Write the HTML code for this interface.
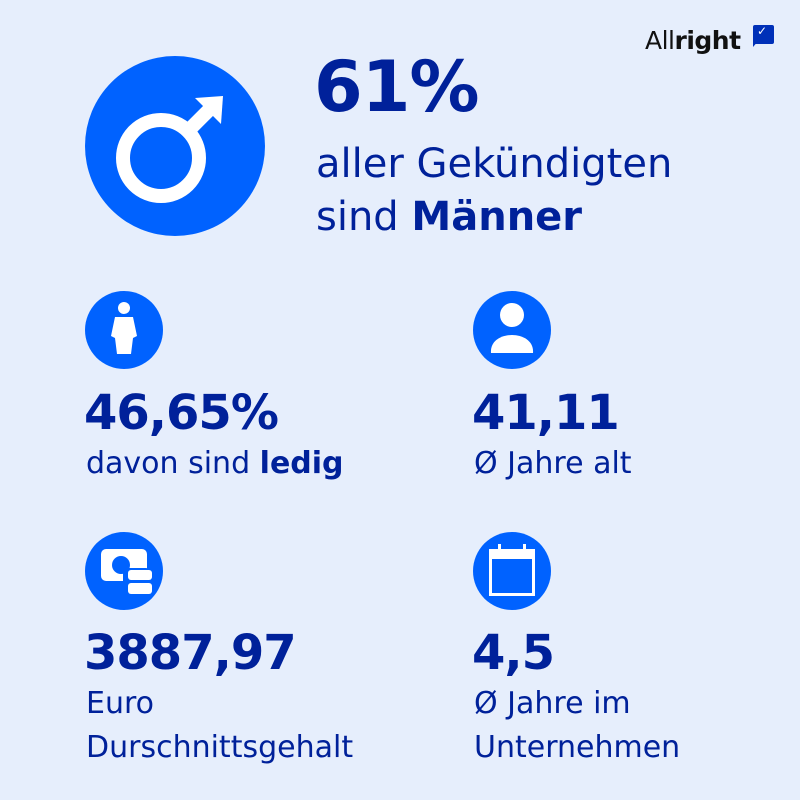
<!DOCTYPE html>
<html><head><meta charset="utf-8"><style>
body{margin:0;width:800px;height:800px;background:#e6eefc;position:relative;overflow:hidden;font-family:"DejaVu Sans","Liberation Sans",sans-serif;color:#00219a}
.t{position:absolute;white-space:nowrap;line-height:1}
.big{font-weight:bold;font-size:48px;letter-spacing:-1px}
.sm{font-size:30px}
.c{position:absolute;border-radius:50%;background:#0062ff}
</style></head><body>
<div class="t" style="left:645px;top:28px;font-size:25px;color:#111;letter-spacing:-0.5px">All<b>right</b></div>
<div style="position:absolute;left:753px;top:25px;width:21px;height:19px;background:#0030b8;border-radius:2px"></div>
<div style="position:absolute;left:753px;top:40px;width:0;height:0;border-left:6px solid #0030b8;border-bottom:7px solid transparent"></div>
<div class="t" style="left:757px;top:25px;color:#fff;font-size:12px">✓</div>

<div class="c" style="left:85px;top:56px;width:180px;height:180px"></div>
<svg style="position:absolute;left:85px;top:56px" width="180" height="180">
<circle cx="76" cy="102" r="38" fill="none" stroke="#fff" stroke-width="14"/>
<line x1="102" y1="76" x2="128" y2="50" stroke="#fff" stroke-width="14"/>
<polygon points="110,42 138,40 136,68" fill="#fff"/>
</svg>
<div class="t" style="left:314px;top:52px;font-size:70px;font-weight:bold;letter-spacing:-1px">61%</div>
<div class="t" style="left:316px;top:144px;font-size:40px">aller Gekündigten</div>
<div class="t" style="left:316px;top:197px;font-size:40px">sind <b>Männer</b></div>

<div class="c" style="left:85px;top:291px;width:78px;height:78px"></div>
<svg style="position:absolute;left:85px;top:291px" width="78" height="78">
<circle cx="39" cy="17" r="6" fill="#fff"/>
<path d="M30 26 H48 L52 45 L48 47 L46 63 H32 L30 47 L26 45 Z" fill="#fff"/>
</svg>
<div class="c" style="left:473px;top:291px;width:78px;height:78px"></div>
<svg style="position:absolute;left:473px;top:291px" width="78" height="78">
<circle cx="39" cy="24" r="12" fill="#fff"/>
<path d="M18 62 C16 38 62 38 60 62 Z" fill="#fff"/>
</svg>
<div class="t big" style="left:84px;top:389px">46,65%</div>
<div class="t sm" style="left:86px;top:449px">davon sind <b>ledig</b></div>
<div class="t big" style="left:472px;top:389px">41,11</div>
<div class="t sm" style="left:474px;top:449px">Ø Jahre alt</div>

<div class="c" style="left:85px;top:532px;width:78px;height:78px"></div>
<svg style="position:absolute;left:85px;top:532px" width="78" height="78">
<rect x="16" y="17" width="46" height="32" rx="5" fill="#fff"/>
<circle cx="36" cy="33" r="9" fill="#0062ff"/>
<rect x="38" y="36" width="28" height="30" rx="5" fill="#0062ff"/>
<rect x="43" y="38" width="24" height="10" rx="3" fill="#fff"/>
<rect x="43" y="51" width="24" height="11" rx="3" fill="#fff"/>
</svg>
<div class="c" style="left:473px;top:532px;width:78px;height:78px"></div>
<svg style="position:absolute;left:473px;top:532px" width="78" height="78">
<rect x="16" y="17" width="46" height="47" fill="#fff"/>
<rect x="19" y="27" width="40" height="34" fill="#0062ff"/>
<rect x="25" y="12" width="3" height="10" fill="#fff"/>
<rect x="50" y="12" width="3" height="10" fill="#fff"/>
</svg>
<div class="t big" style="left:84px;top:629px">3887,97</div>
<div class="t sm" style="left:86px;top:689px">Euro</div>
<div class="t sm" style="left:86px;top:733px">Durschnittsgehalt</div>
<div class="t big" style="left:472px;top:629px">4,5</div>
<div class="t sm" style="left:474px;top:689px">Ø Jahre im</div>
<div class="t sm" style="left:474px;top:733px">Unternehmen</div>
</body></html>
